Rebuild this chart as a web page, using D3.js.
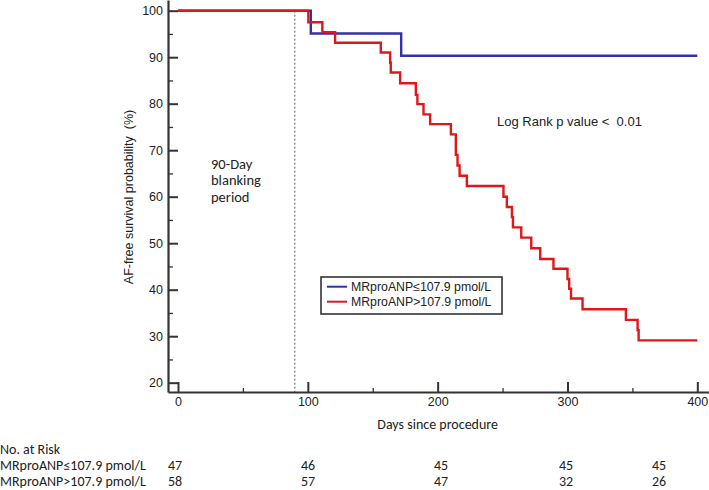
<!DOCTYPE html>
<html>
<head>
<meta charset="utf-8">
<script src="https://cdn.jsdelivr.net/npm/d3@7"></script>
<style>
  html, body { margin: 0; padding: 0; background: #fff; }
  svg { display: block; }
</style>
</head>
<body>
<svg id="chart" width="709" height="490"></svg>
<script>
// ---------- DATA ----------
const yMajorTicks = [20, 30, 40, 50, 60, 70, 80, 90, 100];
const yMinorTicks = [25, 35, 45, 55, 65, 75, 85, 95];
const xMajorTicks = [0, 100, 200, 300, 400];
const xMinorTicks = [50, 150, 250, 350];

const seriesNames = ["MRproANP\u2264107.9 pmol/L", "MRproANP>107.9 pmol/L"];

// Kaplan-Meier steps: day of event and survival (%) after it
const lowDays = [0, 102.3, 171.9];
const lowSurv = [100, 95.1, 90.3];
const lowEnd = 400;

const highDays = [0, 100.4, 111.2, 121, 156.2, 163.4, 163.9, 171.1, 183.2, 184.4, 189.1, 194.2,
  210.2, 214.0, 215.3, 216.9, 222.5, 250.7, 253.3, 257.2, 258.0, 264.4, 272.1, 279.0, 289.2,
  300.0, 301.3, 302.7, 311.6, 345.0, 354.0, 354.8];
const highSurv = [100, 97.5, 95.4, 93.1, 91.0, 88.8, 86.7, 84.4, 81.9, 79.9, 77.7, 75.6,
  73.4, 69.0, 66.7, 64.5, 62.3, 60.0, 57.8, 55.6, 53.4, 51.2, 48.9, 46.6, 44.5,
  42.3, 40.2, 38.1, 35.8, 33.5, 31.3, 29.1];
const highEnd = 400;

const riskTitle = "No. at Risk";
const riskLow = [47, 46, 45, 45, 45];
const riskHigh = [58, 57, 47, 32, 26];

const blankingDay = 90;
const blankingText = ["90-Day", "blanking", "period"];
const pText = "Log Rank p value <  0.01";
const xTitle = "Days since procedure";
const yTitle = "AF-free survival probability  (%)";

// ---------- LAYOUT ----------
const svg = d3.select("#chart");
const axisColor = "#333";
const colors = ["#3232a8", "#e0161b"];
const sansA = "'Liberation Sans', Arial, sans-serif";
const sansC = "Carlito, Lato, 'Open Sans', sans-serif";

const x = d3.scaleLinear().domain([-7.7, 409]).range([168, 709]);
const y = d3.scaleLinear().domain([18, 102.3]).range([392, 0]);

// y axis minor ticks
svg.append("g").attr("transform", `translate(${x.range()[0]},0)`)
  .call(d3.axisLeft(y).tickValues(yMinorTicks).tickSize(-5).tickSizeOuter(0).tickFormat(""))
  .call(g => g.select(".domain").remove())
  .call(g => g.selectAll("line").attr("stroke", axisColor).attr("stroke-width", 1.3));
// y axis major
const yAx = svg.append("g").attr("transform", `translate(${x.range()[0]},0)`)
  .call(d3.axisLeft(y).tickValues(yMajorTicks).tickSize(-10).tickSizeOuter(0).tickPadding(5));
yAx.select(".domain").attr("stroke", axisColor).attr("stroke-width", 2.2);
yAx.selectAll("line").attr("stroke", axisColor).attr("stroke-width", 2);
yAx.selectAll("text").attr("font-family", sansA).attr("font-size", 12.5).attr("fill", "#222");

// x axis minor
svg.append("g").attr("transform", `translate(0,${y.range()[0]})`)
  .call(d3.axisBottom(x).tickValues(xMinorTicks).tickSize(-4).tickSizeOuter(0).tickFormat(""))
  .call(g => g.select(".domain").remove())
  .call(g => g.selectAll("line").attr("stroke", axisColor).attr("stroke-width", 1.3));
// x axis major
const xAx = svg.append("g").attr("transform", `translate(0,${y.range()[0]})`)
  .call(d3.axisBottom(x).tickValues(xMajorTicks).tickSize(-10).tickSizeOuter(0).tickPadding(5));
xAx.select(".domain").attr("stroke", axisColor).attr("stroke-width", 2.2);
xAx.selectAll("line").attr("stroke", axisColor).attr("stroke-width", 2);
xAx.selectAll("text").attr("font-family", sansA).attr("font-size", 12.5).attr("fill", "#222");

// blanking period line
svg.append("line")
  .attr("x1", x(blankingDay)).attr("x2", x(blankingDay))
  .attr("y1", y(100)).attr("y2", y.range()[0])
  .attr("stroke", "#555").attr("stroke-width", 1).attr("stroke-dasharray", "2,2");

// KM step curves
function stepPoints(days, surv, end) {
  const pts = days.map((d, i) => [d, surv[i]]);
  pts.push([end, surv[surv.length - 1]]);
  return pts;
}
const line = d3.line().x(d => x(d[0])).y(d => y(d[1])).curve(d3.curveStepAfter);
const curves = [stepPoints(lowDays, lowSurv, lowEnd), stepPoints(highDays, highSurv, highEnd)];
curves.forEach((pts, i) => {
  svg.append("path").datum(pts).attr("d", line)
    .attr("fill", "none").attr("stroke", colors[i]).attr("stroke-width", 2.4)
    .attr("stroke-linejoin", "miter");
});

// Blanking text
svg.append("text").attr("font-family", sansC).attr("font-size", 14.5).attr("fill", "#222")
  .selectAll("tspan").data(blankingText).join("tspan")
  .attr("x", 211).attr("y", (d, i) => 168.5 + i * 16.5).text(d => d);

// p-value text
svg.append("text").attr("x", 497).attr("y", 125.5)
  .attr("font-family", sansA).attr("font-size", 13).attr("fill", "#222")
  .style("white-space", "pre").text(pText);

// Legend
const lg = svg.append("g");
lg.append("rect").attr("x", 321).attr("y", 277).attr("width", 181).attr("height", 37)
  .attr("fill", "#fff").attr("stroke", "#333").attr("stroke-width", 1.6);
seriesNames.forEach((name, i) => {
  const cy = 286.7 + i * 15;
  lg.append("line").attr("x1", 327).attr("x2", 347).attr("y1", cy).attr("y2", cy)
    .attr("stroke", colors[i]).attr("stroke-width", 2);
  lg.append("text").attr("x", 351).attr("y", cy + 4.3)
    .attr("font-family", sansA).attr("font-size", 12.3).attr("fill", "#222").text(name);
});

// Axis titles
svg.append("text").attr("x", x(200)).attr("y", 428.5).attr("text-anchor", "middle")
  .attr("font-family", sansC).attr("font-size", 14).attr("fill", "#222").text(xTitle);
svg.append("text").attr("transform", "translate(133,197) rotate(-90)").attr("text-anchor", "middle")
  .attr("font-family", sansA).attr("font-size", 12.5).attr("fill", "#222")
  .style("white-space", "pre").text(yTitle);

// Risk table
const riskColX = [175, 308, 441, 566, 659];
const rt = svg.append("g").attr("font-family", sansC).attr("font-size", 14).attr("fill", "#222");
rt.append("text").attr("x", 0).attr("y", 454).text(riskTitle);
[riskLow, riskHigh].forEach((row, r) => {
  const yy = 470 + r * 16;
  rt.append("text").attr("x", 0).attr("y", yy).text(seriesNames[r]);
  rt.selectAll(null).data(row).join("text")
    .attr("x", (d, i) => riskColX[i]).attr("y", yy).attr("text-anchor", "middle").text(d => d);
});
</script>
</body>
</html>
